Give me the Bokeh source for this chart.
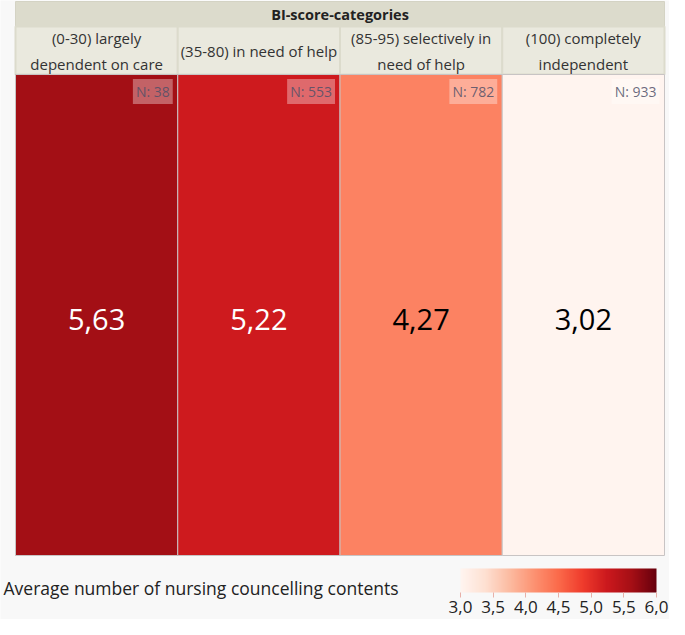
import numpy as np
from bokeh.plotting import figure
from bokeh.models import Range1d, ColorBar, LinearColorMapper, FixedTicker, ColumnDataSource
from bokeh.palettes import Reds256
from bokeh.embed import file_html
from bokeh.resources import INLINE
from bokeh.core.properties import value

# ---- data ----
group_title = "BI-score-categories"
categories = ["(0-30) largely\ndependent on care", "(35-80) in need of help",
              "(85-95) selectively in\nneed of help", "(100) completely\nindependent"]
avg_values = [5.63, 5.22, 4.27, 3.02]
counts = [38, 553, 782, 933]
cbar_ticks = [3.0, 3.5, 4.0, 4.5, 5.0, 5.5, 6.0]
cbar_tick_labels = ["3,0", "3,5", "4,0", "4,5", "5,0", "5,5", "6,0"]
legend_title = "Average number of nursing councelling contents"
val_low, val_high = 3.0, 6.0

# ---- layout constants (pixels, y measured from the top) ----
W, H = 669, 619
LEFT = 15            # left edge of the table
RIGHT_GAP = 5        # gap right of the table
COL_W = (W - LEFT - RIGHT_GAP) / len(categories)
ROW1_TOP, ROW2_TOP, CELL_TOP, CELL_BOT = 1, 26, 74, 555
BAR_X, BAR_W, BAR_H = 460, 196, 24
FONT = "Open Sans"
BG = "#f8f8f8"

mapper = LinearColorMapper(palette=list(reversed(Reds256)), low=val_low, high=val_high)

idx = np.arange(len(categories)) + 0.5   # column centres in column units
src = ColumnDataSource(dict(
    xc=idx,
    cat=categories,
    val=avg_values,
    val_text=[f"{v:.2f}".replace(".", ",") for v in avg_values],
    val_color=["white" if v > 5.0 else "black" for v in avg_values],
    n_text=[f"N: {n}" for n in counts],
))

p = figure(width=W, height=H,
           x_range=Range1d(-LEFT / COL_W, (W - LEFT) / COL_W),
           y_range=Range1d(H, 0),
           output_backend="svg", toolbar_location=None,
           x_axis_location=None, y_axis_location=None,
           min_border_left=0, min_border_right=0, min_border_top=0, min_border_bottom=0)
p.background_fill_color = BG
p.border_fill_color = BG
p.outline_line_color = None
p.xgrid.visible = False
p.ygrid.visible = False

# header row 1 (spans all categories)
p.quad(left=[0], right=[len(categories)], top=[ROW1_TOP], bottom=[ROW2_TOP],
       fill_color="#dcdbcc", line_color="#d4d3c4", line_width=1)
p.text(x=[len(categories) / 2], y=[(ROW1_TOP + ROW2_TOP) / 2], text=[group_title],
       text_font=value(FONT), text_font_size="14.5px", text_font_style="bold",
       text_color="#222222", text_align="center", text_baseline="middle")

# header row 2
p.rect(x="xc", y=(ROW2_TOP + CELL_TOP) / 2, width=1, height=CELL_TOP - ROW2_TOP, source=src,
       fill_color="#eae9de", line_color="#dcdbcc", line_width=2)
p.text(x="xc", y=(ROW2_TOP + CELL_TOP) / 2, text="cat", source=src,
       text_font=value(FONT), text_font_size="15px", text_color="#333333",
       text_align="center", text_baseline="middle", text_line_height=1.3)

# cells
p.rect(x="xc", y=(CELL_TOP + CELL_BOT) / 2, width=1, height=CELL_BOT - CELL_TOP, source=src,
       fill_color={"field": "val", "transform": mapper}, line_color="#c8c4c4", line_width=1)
p.text(x="xc", y=(CELL_TOP + CELL_BOT) / 2 + 4, text="val_text", source=src,
       text_color="val_color", text_font=value(FONT), text_font_size="29px",
       text_align="center", text_baseline="middle")
p.text(x="xc", y=CELL_TOP + 17, x_offset=COL_W / 2 - 5, text="n_text", source=src,
       text_font=value(FONT), text_font_size="14px", text_color="#505068", text_alpha=0.85,
       text_align="right", text_baseline="middle",
       background_fill_color="white", background_fill_alpha=0.35, padding=3)

# legend title
p.text(x=[-LEFT / COL_W + 3 / COL_W], y=[587], text=[legend_title],
       text_font=value(FONT), text_font_size="17.5px", text_color="#222222",
       text_align="left", text_baseline="middle")

cb = ColorBar(color_mapper=mapper, orientation="horizontal", width=BAR_W, height=BAR_H,
              location=(BAR_X, 4), padding=0,
              ticker=FixedTicker(ticks=cbar_ticks),
              major_label_overrides={t: l for t, l in zip(cbar_ticks, cbar_tick_labels)},
              major_label_text_font=FONT, major_label_text_font_size="17px",
              major_label_text_color="#222222",
              major_tick_in=0, major_tick_out=5, major_tick_line_color="#e8b0a8",
              bar_line_color=None, background_fill_alpha=0, border_line_color=None,
              label_standoff=3)
p.add_layout(cb)

open("out.html", "w").write(file_html(p, INLINE))
